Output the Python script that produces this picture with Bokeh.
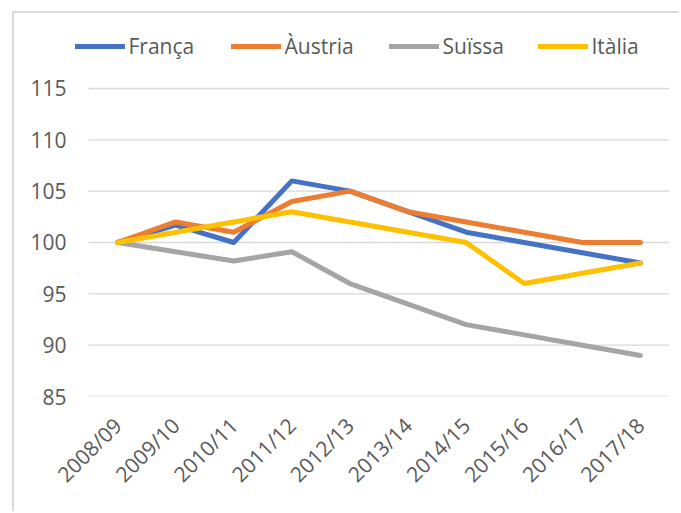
from math import pi
from bokeh.plotting import figure
from bokeh.models import Range1d, Legend, LegendItem, FixedTicker
from bokeh.embed import file_html
from bokeh.resources import INLINE

seasons = ["2008/09", "2009/10", "2010/11", "2011/12", "2012/13",
           "2013/14", "2014/15", "2015/16", "2016/17", "2017/18"]
franca = [100, 101.7, 100, 106, 105, 103, 101, 100, 99, 98]
austria = [100, 102, 101, 104, 105, 103, 102, 101, 100, 100]
suissa = [100, 99.1, 98.2, 99.1, 96, 94, 92, 91, 90, 89]
italia = [100, 101, 102, 103, 102, 101, 100, 96, 97, 98]
y_ticks = [85, 90, 95, 100, 105, 110, 115]

names = ["França", "Àustria", "Suïssa", "Itàlia"]
colors = ["#4472C4", "#ED7D31", "#A5A5A5", "#FFC000"]
values = [franca, austria, suissa, italia]

FONT = "Open Sans"
TXT = "#595959"

xs = list(range(len(seasons)))
# page geometry: categories 58.1 px apart, first at x=117; frame from x=70 to 669
step = 58.1
x_start = -(117 - 70) / step
x_end = len(seasons) - 0.5
# y: 10.267 px per unit, 85 at y=396, frame top at y=26
y_end = y_ticks[0] + 370 / 10.267

p = figure(x_range=Range1d(x_start, x_end), y_range=Range1d(y_ticks[0], y_end),
           width=667, height=500, output_backend="svg", toolbar_location=None,
           min_border_left=56, min_border_right=12, min_border_top=13,
           min_border_bottom=117)
p.styles = {"margin-left": "12px", "margin-top": "11px",
            "border-left": "2px solid #d9d9d9", "border-top": "2px solid #d9d9d9"}
p.outline_line_color = None
p.xgrid.grid_line_color = None
p.ygrid.grid_line_color = None

# horizontal gridlines across the category band
n = len(y_ticks)
p.segment(x0=[xs[0] - 0.5] * n, x1=[xs[-1] + 0.5] * n, y0=y_ticks, y1=y_ticks,
          line_color="#d9d9d9", line_width=1.3)

p.yaxis.ticker = FixedTicker(ticks=y_ticks)
p.xaxis.ticker = FixedTicker(ticks=xs)
p.xaxis.major_label_overrides = {i: s for i, s in zip(xs, seasons)}

for ax in (p.xaxis[0], p.yaxis[0]):
    ax.axis_line_color = None
    ax.major_tick_line_color = None
    ax.minor_tick_line_color = None
    ax.major_tick_out = 0
    ax.major_tick_in = 0
    ax.major_label_text_font = FONT
    ax.major_label_text_color = TXT
    ax.major_label_text_font_size = "21px"

p.yaxis.major_label_standoff = 4
p.xaxis.major_label_orientation = pi / 4
p.xaxis.major_label_standoff = 25

renderers = []
for name, vals, col in zip(names, values, colors):
    r = p.line(xs, vals, line_width=5, line_color=col,
               line_cap="round", line_join="round")
    renderers.append(r)

leg_x = [4.5, 160.5, 318.5, 467.5]
for name, r, lx in zip(names, renderers, leg_x):
    leg = Legend(items=[LegendItem(label=name, renderers=[r])],
                 location=(lx, 336), orientation="horizontal",
                 padding=0, margin=0, border_line_color=None,
                 background_fill_alpha=0, glyph_width=50, glyph_height=20,
                 label_standoff=4, label_height=20,
                 label_text_font=FONT, label_text_font_size="21px",
                 label_text_color=TXT)
    p.add_layout(leg)

open("out.html", "w").write(file_html(p, INLINE))
